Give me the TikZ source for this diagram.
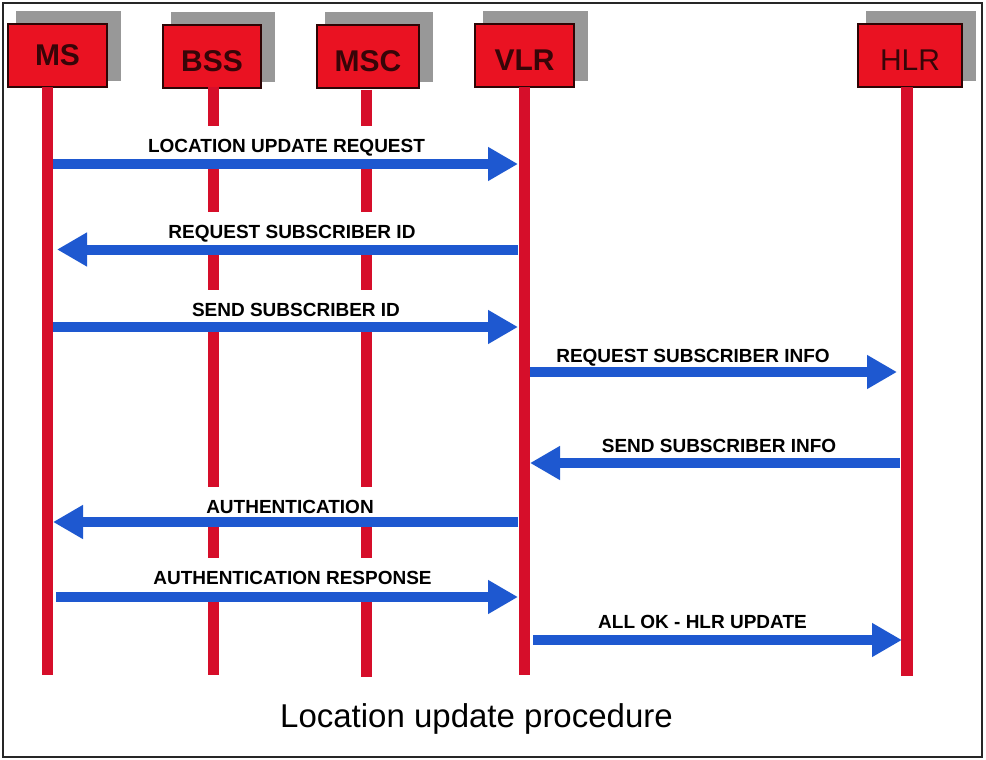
\documentclass[tikz,border=0pt]{standalone}
\usepackage{fontspec}
\setmainfont{Liberation Sans}
\usetikzlibrary{arrows.meta,backgrounds}
\definecolor{boxred}{RGB}{234,18,34}
\definecolor{boxedge}{RGB}{45,5,5}
\definecolor{boxtext}{RGB}{55,5,8}
\definecolor{shade}{RGB}{152,152,152}
\definecolor{lifered}{RGB}{214,14,42}
\definecolor{msgblue}{RGB}{30,88,208}
\begin{document}
\begin{tikzpicture}[x=1pt,y=-1pt,
  entity/.style={draw=boxedge, line width=2pt, fill=boxred, minimum height=63pt,
    inner sep=0pt, text=boxtext, font=\fontsize{30}{30}\selectfont\bfseries},
  lowtext/.style={text height=29.5pt, text depth=0pt},
  life/.style={draw=lifered, line width=11pt},
  msg/.style={draw=msgblue, line width=10pt, -{Triangle[length=30pt,width=32pt]}},
  lbl/.style={fill=white, inner xsep=3pt, inner ysep=0pt, text height=26pt,
    text depth=13pt, anchor=base, font=\fontsize{19}{19}\selectfont\bfseries},
  shadowbox/.style={fill=shade},
]
\useasboundingbox (0,0) rectangle (986,760);
\begin{scope}[on background layer]
  \fill[white] (0,0) rectangle (986,760);
\end{scope}

% entity boxes
\node[entity, minimum width=99pt]  (ms)  at (57.5,55.5) {MS};
\node[entity, lowtext, minimum width=98pt]  (bss) at (212,56.5)  {BSS};
\node[entity, lowtext, minimum width=102pt] (msc) at (368,56.5)  {MSC};
\node[entity, lowtext, minimum width=99pt]  (vlr) at (524.5,56)  {VLR};
\node[entity, lowtext, minimum width=104pt, font=\fontsize{30}{30}\selectfont] (hlr) at (910,55.5)  {HLR};

\begin{scope}[on background layer]
  \foreach \b in {ms,bss,msc,vlr,hlr}{
    \fill[shadowbox] ([shift={(9pt,12pt)}]\b.north west) rectangle ([shift={(13pt,7pt)}]\b.south east);
  }
\end{scope}

% lifelines
\coordinate (msT)  at (47.5,87);  \coordinate (msB)  at (47.5,675);
\coordinate (bssT) at (213.5,87); \coordinate (bssB) at (213.5,675);
\coordinate (mscT) at (366,90);   \coordinate (mscB) at (366,677);
\coordinate (vlrT) at (524,87);   \coordinate (vlrB) at (524,675);
\coordinate (hlrT) at (907,87);   \coordinate (hlrB) at (907,676);
\draw[life] (msT) -- (msB);
\draw[life] (bssT) -- (bssB);
\draw[life] (mscT) -- (mscB);
\draw[life] (vlrT) -- (vlrB);
\draw[life, line width=12.5pt] (hlrT) -- (hlrB);

% message levels
\coordinate (y1) at (0,164);
\coordinate (y2) at (0,249.5);
\coordinate (y3) at (0,327);
\coordinate (y4) at (0,372);
\coordinate (y5) at (0,463);
\coordinate (y6) at (0,522);
\coordinate (y7) at (0,597);
\coordinate (y8) at (0,640);

% labels (white backing hides the BSS/MSC lifelines)
\node[lbl] (l1) at (286.5,152) {LOCATION UPDATE REQUEST};
\node[lbl] (l2) at (292,238)   {REQUEST SUBSCRIBER ID};
\node[lbl] (l3) at (296,316)   {SEND SUBSCRIBER ID};
\node[lbl] (l4) at (693,362)   {REQUEST SUBSCRIBER INFO};
\node[lbl] (l5) at (719,452)   {SEND SUBSCRIBER INFO};
\node[lbl] (l6) at (290,513)   {AUTHENTICATION};
\node[lbl] (l7) at (292.5,584) {AUTHENTICATION RESPONSE};
\node[lbl] (l8) at (702.5,628) {ALL OK - HLR UPDATE};

% messages
\draw[msg, shorten <=5.5pt, shorten >=6pt]  (msT |- y1) -- (vlrT |- y1);
\draw[msg, shorten <=6pt, shorten >=9.5pt]  (vlrT |- y2) -- (msT |- y2);
\draw[msg, shorten <=5.5pt, shorten >=6pt]  (msT |- y3) -- (vlrT |- y3);
\draw[msg, shorten <=6pt, shorten >=10pt]   (vlrT |- y4) -- (hlrT |- y4);
\draw[msg, shorten <=7pt, shorten >=6pt]    (hlrT |- y5) -- (vlrT |- y5);
\draw[msg, shorten <=6pt, shorten >=5.5pt]  (vlrT |- y6) -- (msT |- y6);
\draw[msg, shorten <=8.5pt, shorten >=6pt]  (msT |- y7) -- (vlrT |- y7);
\draw[msg, shorten <=9pt, shorten >=5pt]    (vlrT |- y8) -- (hlrT |- y8);

% caption
\node[anchor=base, inner sep=0pt, font=\fontsize{33}{33}\selectfont] (title) at (476.5,727) {Location update procedure};

% frame
\draw[line width=2.5pt, black!85] (3,3) rectangle (982,757);
\end{tikzpicture}
\end{document}
